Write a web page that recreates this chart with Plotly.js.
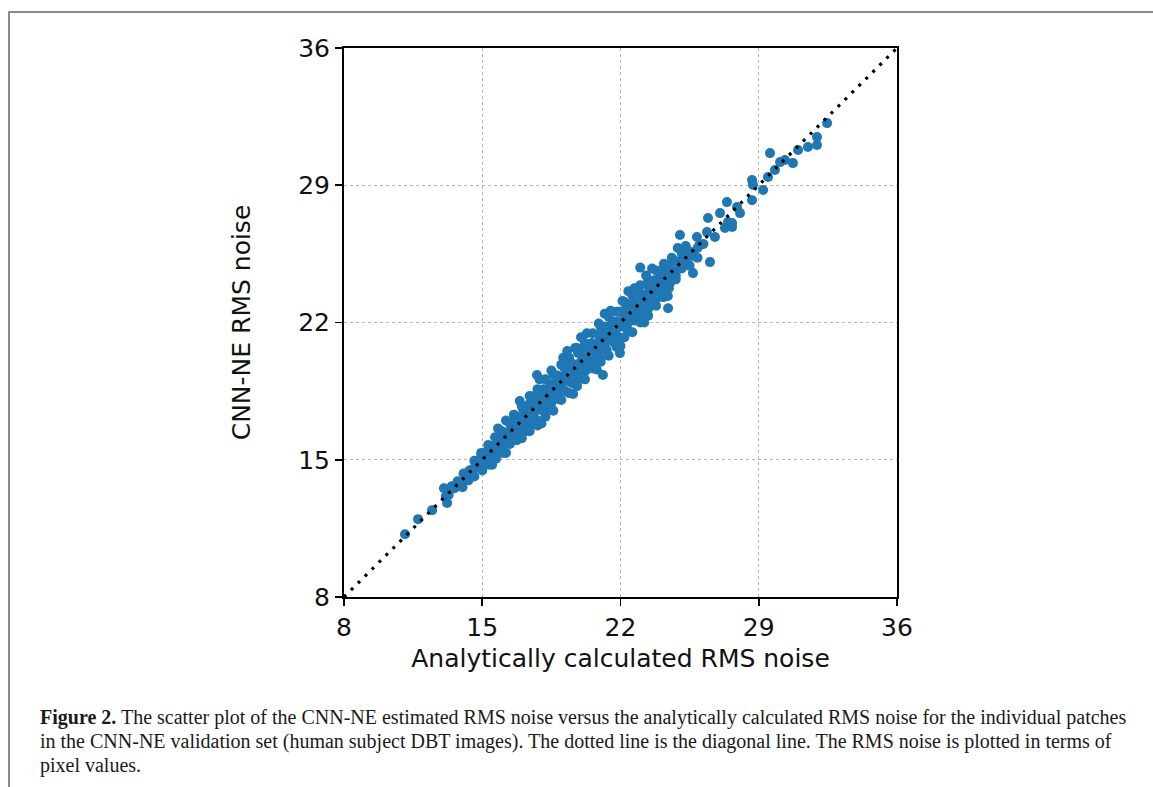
<!DOCTYPE html>
<html>
<head>
<meta charset="utf-8">
<script src="https://cdn.plot.ly/plotly-3.0.1.min.js"></script>
<style>
  html, body { margin:0; padding:0; background:#fff; overflow:hidden; }
  #wrap { position:relative; width:1153px; height:787px; overflow:hidden; }
  #frame { position:absolute; left:8px; top:11px; width:2000px; height:2000px;
           border-left:2px solid #8c8c8c; border-top:2px solid #8c8c8c; }
  #chart { position:absolute; left:0; top:0; width:1153px; height:787px; }
  #caption { position:absolute; left:40px; top:705px; width:1110px;
             font-family:"Liberation Serif", "DejaVu Serif", serif; font-size:20px;
             line-height:24px; color:#1a1a1a; white-space:nowrap; }
</style>
</head>
<body>
<div id="wrap">
  <div id="frame"></div>
  <div id="chart"></div>
  <div id="caption"><b>Figure 2.</b> The scatter plot of the CNN-NE estimated RMS noise versus the analytically calculated RMS noise for the individual patches<br>in the CNN-NE validation set (human subject DBT images). The dotted line is the diagonal line. The RMS noise is plotted in terms of<br>pixel values.</div>
</div>
<script>
// Axis ticks
const tickValues = [8, 15, 22, 29, 36];
const axisRange = [8, 36];
const diagonalX = [8, 36];
const diagonalY = [8, 36];

// Analytically calculated RMS noise (x) for each patch
const analyticRMS = [
  // sparse low end
  11.09, 11.75, 12.46, 13.22, 13.16, 13.06,
  // band, centre row
  13.3, 13.6, 13.9, 14.2, 14.5, 14.8, 15.1, 15.4, 15.7, 16.0, 16.3, 16.6, 16.9, 17.2, 17.5, 17.8, 18.1, 18.4, 18.7, 19.0, 19.3, 19.6,
  19.9, 20.2, 20.5, 20.8, 21.1, 21.4, 21.7, 22.0, 22.3, 22.6, 22.9, 23.2, 23.5, 23.8, 24.1, 24.4, 24.7, 25.0, 25.3, 25.6, 25.9,
  // band, just below diagonal
  14.0, 14.3, 14.6, 14.9, 15.2, 15.5, 15.8, 16.1, 16.4, 16.7, 17.0, 17.3, 17.6, 17.9, 18.2, 18.5, 18.8, 19.1, 19.4, 19.7,
  20.0, 20.3, 20.6, 20.9, 21.2, 21.5, 21.8, 22.1, 22.4, 22.7, 23.0, 23.3, 23.6, 23.9, 24.2, 24.5, 24.8, 25.1, 25.4, 25.7,
  // band, just above diagonal
  13.45, 13.75, 14.05, 14.35, 14.65, 14.95, 15.25, 15.55, 15.85, 16.15, 16.45, 16.75, 17.05, 17.35, 17.65, 17.95, 18.25, 18.55, 18.85, 19.15, 19.45,
  19.75, 20.05, 20.35, 20.65, 20.95, 21.25, 21.55, 21.85, 22.15, 22.45, 22.75, 23.05, 23.35, 23.65, 23.95, 24.25, 24.55, 24.85, 25.15, 25.45,
  // band, lower part
  15.0, 15.35, 15.7, 16.05, 16.4, 16.75, 17.1, 17.45, 17.8, 18.15, 18.5, 18.85, 19.2, 19.55, 19.9,
  20.25, 20.6, 20.95, 21.3, 21.65, 22.0, 22.35, 22.7, 23.05, 23.4, 23.75, 24.1, 24.45, 24.8,
  // band, upper part
  14.6, 14.95, 15.3, 15.65, 16.0, 16.35, 16.7, 17.05, 17.4, 17.75, 18.1, 18.45, 18.8, 19.15, 19.5, 19.85,
  20.2, 20.55, 20.9, 21.25, 21.6, 21.95, 22.3, 22.65, 23.0, 23.35, 23.7, 24.05, 24.4, 24.75, 25.1,
  // band, upper edge
  16.6, 17.0, 17.4, 17.8, 18.2, 18.6, 19.0, 19.4, 19.8, 20.2, 20.6, 21.0, 21.4, 21.8, 22.2, 22.6, 23.0, 23.4, 23.8, 24.2, 24.6,
  // band, lower edge
  17.0, 17.4, 17.8, 18.2, 18.6, 19.0, 19.4, 19.8, 20.2, 20.6, 21.0, 21.4, 21.8, 22.2, 22.6, 23.0, 23.4, 23.8, 24.2,
  // top rim
  18.5, 19.1, 19.7, 20.3, 20.9, 21.5, 22.1, 22.7, 23.3,
  16.9, 17.9, 19.3, 20.0, 21.2, 22.4, 23.6, 15.8, 16.2,
  // bottom rim
  18.0, 19.6, 20.8, 22.0, 23.2, 24.4, 15.5, 16.2,
  // scattered points
  17.77, 21.11, 21.97, 23.00, 24.41, 25.67, 26.53, 25.01, 27.29, 27.65, 26.00,
  25.30, 25.50, 24.90, 26.20, 25.90,
  // sparse upper end
  25.87, 26.38, 26.78, 26.43, 27.04, 27.39, 27.44, 27.65, 27.90, 28.05, 28.66, 28.71, 28.66,
  29.22, 29.57, 29.47, 29.82, 30.08, 30.33, 30.73, 30.99, 31.49, 31.95, 31.95, 32.46
];

// CNN-NE estimated RMS noise (y) for the same patches
const cnnRMS = [
  // sparse low end
  11.20, 11.97, 12.43, 12.79, 13.14, 13.55,
  // band, centre row
  13.20, 13.55, 13.75, 14.10, 14.50, 14.60, 15.00, 15.35, 15.55, 15.90, 16.30, 16.40, 16.80, 17.15, 17.35, 17.70, 18.10, 18.20, 18.60, 18.95, 19.15, 19.50,
  19.90, 20.00, 20.40, 20.75, 20.95, 21.30, 21.70, 21.80, 22.20, 22.55, 22.75, 23.10, 23.50, 23.60, 24.00, 24.35, 24.55, 24.90, 25.30, 25.40, 25.80,
  // band, just below diagonal
  13.60, 13.95, 14.15, 14.60, 14.80, 15.00, 15.40, 15.75, 15.95, 16.40, 16.60, 16.80, 17.20, 17.55, 17.75, 18.20, 18.40, 18.60, 19.00, 19.35,
  19.55, 20.00, 20.20, 20.40, 20.80, 21.15, 21.35, 21.80, 22.00, 22.20, 22.60, 22.95, 23.15, 23.60, 23.80, 24.00, 24.40, 24.75, 24.95, 25.40,
  // band, just above diagonal
  13.65, 13.90, 14.30, 14.45, 14.85, 15.25, 15.45, 15.70, 16.10, 16.25, 16.65, 17.05, 17.25, 17.50, 17.90, 18.05, 18.45, 18.85, 19.05, 19.30, 19.70,
  19.85, 20.25, 20.65, 20.85, 21.10, 21.50, 21.65, 22.05, 22.45, 22.65, 22.90, 23.30, 23.45, 23.85, 24.25, 24.45, 24.70, 25.10, 25.25, 25.65,
  // band, lower part
  14.45, 14.75, 15.05, 15.35, 15.80, 16.00, 16.40, 16.80, 17.00, 17.45, 17.90, 18.10, 18.50, 18.90, 19.10,
  19.55, 20.00, 20.20, 20.60, 21.00, 21.20, 21.65, 22.10, 22.30, 22.70, 23.10, 23.30, 23.75, 24.20,
  // band, upper part
  14.95, 15.35, 15.75, 16.15, 16.45, 16.90, 17.20, 17.60, 17.85, 18.35, 18.60, 18.85, 19.30, 19.70, 19.95, 20.45,
  20.70, 20.95, 21.40, 21.80, 22.05, 22.55, 22.80, 23.05, 23.50, 23.90, 24.15, 24.65, 24.90, 25.15, 25.55,
  // band, upper edge
  17.30, 17.75, 18.25, 18.60, 19.10, 19.35, 19.85, 20.20, 20.70, 20.95, 21.45, 21.80, 22.30, 22.55, 23.05, 23.40, 23.90, 24.15, 24.65, 25.00, 25.30,
  // band, lower edge
  16.10, 16.45, 16.75, 17.20, 17.50, 18.05, 18.40, 18.75, 19.10, 19.65, 20.00, 20.30, 20.75, 21.25, 21.50, 22.00, 22.35, 22.85, 23.30,
  // top rim
  19.55, 20.20, 20.70, 21.45, 21.95, 22.60, 23.10, 23.75, 24.40,
  18.00, 19.10, 20.55, 21.25, 22.45, 23.60, 24.75, 16.60, 17.00,
  // bottom rim
  16.85, 18.35, 19.60, 20.80, 22.00, 23.35, 14.75, 15.35,
  // scattered points
  19.32, 19.32, 20.44, 24.80, 22.73, 24.52, 25.08, 26.46, 26.82, 27.07, 25.95,
  25.90, 24.90, 25.80, 26.00, 25.30,
  // sparse upper end
  26.36, 26.61, 26.36, 27.33, 27.58, 28.14, 27.12, 26.87, 27.89, 27.58, 29.27, 29.01, 28.24,
  28.76, 30.64, 29.42, 29.78, 30.18, 30.29, 30.13, 30.80, 30.95, 31.05, 31.46, 32.17
];

const traces = [
  {
    type: 'scatter', mode: 'markers',
    x: analyticRMS, y: cnnRMS,
    marker: { color: '#1f77b4', size: 10, line: { width: 0 } },
    hoverinfo: 'x+y'
  },
  {
    type: 'scatter', mode: 'lines',
    x: diagonalX, y: diagonalY,
    line: { color: 'black', width: 3.2, dash: '3px,6.8px' },
    hoverinfo: 'skip'
  }
];

const axisCommon = {
  range: axisRange,
  tickmode: 'array',
  tickvals: tickValues,
  ticktext: tickValues.map(String),
  showgrid: true, gridcolor: '#b5b5b5', gridwidth: 1, griddash: 'dot',
  zeroline: false,
  showline: true, linecolor: 'black', linewidth: 2, mirror: true,
  ticks: 'outside', ticklen: 7, tickwidth: 1.6, tickcolor: 'black',
  tickfont: { family: 'DejaVu Sans', size: 25, color: '#111' }
};

const layout = {
  width: 1153, height: 787,
  margin: { l: 344, r: 256, t: 48, b: 190 },
  paper_bgcolor: 'rgba(0,0,0,0)',
  plot_bgcolor: 'white',
  showlegend: false,
  font: { family: 'DejaVu Sans', size: 25, color: '#111' },
  xaxis: Object.assign({}, axisCommon, {
    title: { text: 'Analytically calculated RMS noise', standoff: 8, font: { family: 'DejaVu Sans', size: 25, color: '#111' } }
  }),
  yaxis: Object.assign({}, axisCommon, {
    title: { text: 'CNN-NE RMS noise', standoff: 40, font: { family: 'DejaVu Sans', size: 25, color: '#111' } }
  })
};

Plotly.newPlot('chart', traces, layout, { displayModeBar: false, staticPlot: true });
</script>
</body>
</html>
